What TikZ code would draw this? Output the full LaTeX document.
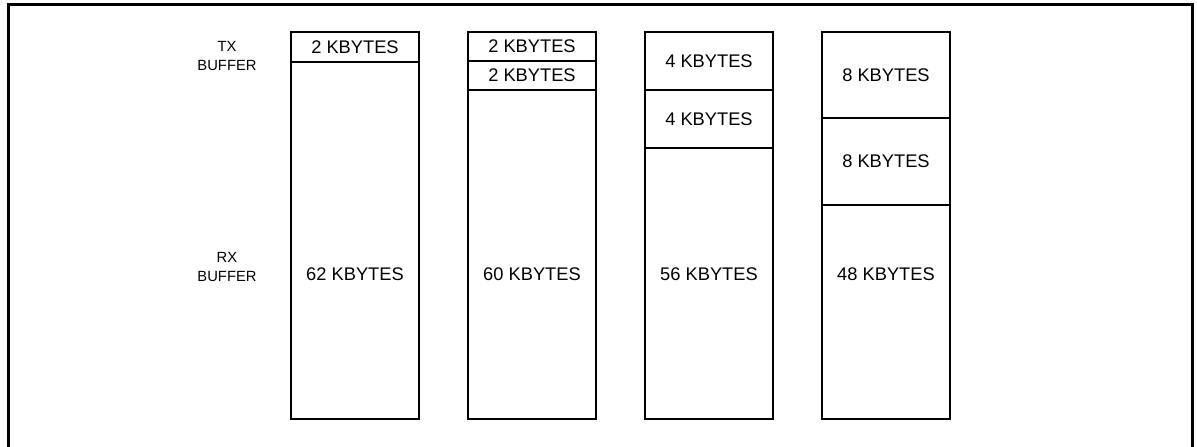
\documentclass[tikz,border=0pt]{standalone}
\usepackage{fontspec}
\setmainfont{Liberation Sans}
\usepackage{tikz}
\usetikzlibrary{positioning}
\tikzset{
  cell/.style={
    rectangle, draw=black, line width=0.9pt,
    minimum width=3.2cm, inner sep=0pt,
    font=\fontsize{13}{15}\selectfont
  },
  kbtext/.style={font=\fontsize{13}{15}\selectfont, inner sep=0pt},
  sidetext/.style={font=\fontsize{10.5}{13}\selectfont, align=center, inner sep=0pt},
  frameline/.style={line width=2.1pt, line cap=rect},
}

\begin{document}
\begin{tikzpicture}[x=0.025cm, y=-0.025cm]
    \useasboundingbox (0,0) rectangle (1197,447);

    % outer frame, open at the bottom
    \draw[frameline] (8.5,460) |- (1192.5,4.5) -- (1192.5,460);

    % side labels
    \node[sidetext] (txlab) at (227,56)  {TX\\BUFFER};
    \node[sidetext] (rxlab) at (227,267) {RX\\BUFFER};

    % column 1
    \node[cell, minimum height=0.75cm]  (tx1)  at (355,47)    {2 KBYTES};
    \node[cell, minimum height=8.925cm] (rx1)  at (355,240.5) {};
    % column 2
    \node[cell, minimum height=0.725cm] (tx2a) at (532,46.5)  {2 KBYTES};
    \node[cell, minimum height=0.725cm] (tx2b) at (532,75.5)  {2 KBYTES};
    \node[cell, minimum height=8.225cm] (rx2)  at (532,254.5) {};
    % column 3
    \node[cell, minimum height=1.45cm]  (tx3a) at (709,61)    {4 KBYTES};
    \node[cell, minimum height=1.45cm]  (tx3b) at (709,119)   {4 KBYTES};
    \node[cell, minimum height=6.775cm] (rx3)  at (709,283.5) {};
    % column 4
    \node[cell, minimum height=2.15cm]  (tx4a) at (886,75)    {8 KBYTES};
    \node[cell, minimum height=2.175cm] (tx4b) at (886,161.5) {8 KBYTES};
    \node[cell, minimum height=5.35cm]  (rx4)  at (886,312)   {};

    % rx sizes
    \node[kbtext] (rx1t) at (355,274) {62 KBYTES};
    \node[kbtext] (rx2t) at (532,274) {60 KBYTES};
    \node[kbtext] (rx3t) at (709,274) {56 KBYTES};
    \node[kbtext] (rx4t) at (886,274) {48 KBYTES};
\end{tikzpicture}
\end{document}
